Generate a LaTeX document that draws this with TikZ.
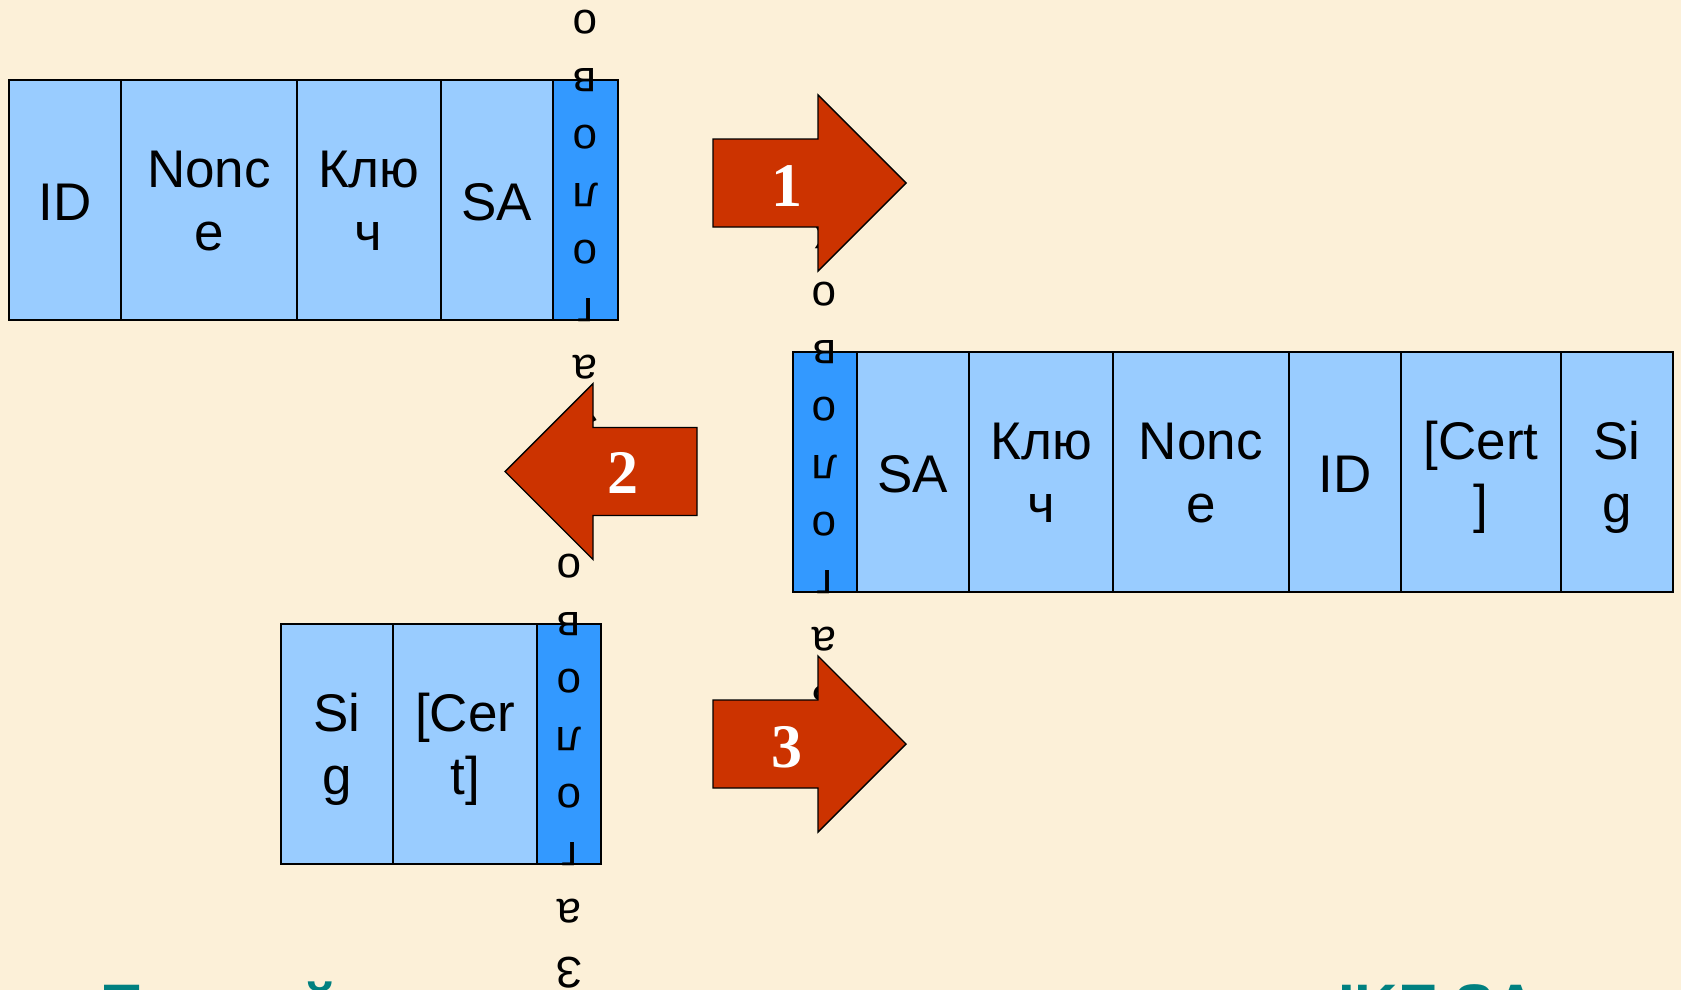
\documentclass[tikz,border=0pt]{standalone}
\usepackage{fontspec}
\setmainfont{Liberation Sans}
\newfontfamily\numfont{Liberation Serif}

\definecolor{bgbeige}{RGB}{252,240,216}
\definecolor{cellblue}{RGB}{153,204,255}
\definecolor{headblue}{RGB}{51,153,255}
\definecolor{arrowred}{RGB}{204,51,0}
\definecolor{titleteal}{RGB}{0,128,128}

% struts with the line box of the cell font
\newcommand\cellstrut{\rule[-0.212em]{0pt}{\dimexpr1.117em+5pt\relax}}
\newcommand\tallstrut{\rule{0pt}{50pt}}

\begin{document}
\begin{tikzpicture}[x=1pt, y=-1pt,
  cell/.style={draw=black, line width=2pt, fill=cellblue, minimum height=240pt,
    inner sep=0pt, outer sep=0pt, align=center, font=\fontsize{53}{63.3}\selectfont,
    execute at begin node=\cellstrut, execute at end node=\cellstrut},
  head/.style={cell, fill=headblue},
  letter/.style={font=\fontsize{44}{52}\selectfont, rotate=180, anchor=base, inner sep=0pt},
  bigarrow/.style={draw=black, line width=1.4pt, fill=arrowred},
  num/.style={font=\numfont\bfseries\fontsize{62}{74}\selectfont, text=white, inner sep=0pt},
  title/.style={font=\bfseries\fontsize{60}{72}\selectfont, text=titleteal, anchor=base west, inner sep=0pt}
]
\fill[bgbeige] (0,0) rectangle (1681,990);
\useasboundingbox (0,0) rectangle (1681,990);

% message 1
\foreach \n/\xa/\xb/\txt in {id/8.6/121/ID, nonce/121/297/{\tallstrut Nonc\\e}, key/297/440.6/{\tallstrut Клю\\ч}, sa/440.6/553/SA} {
  \node[cell, minimum width={\xb pt-\xa pt}] (m1-\n) at ({(\xa+\xb)/2},199.5) {\txt};
}
\node[head, minimum width=64.5pt] (m1-hdr) at (585.25,199.5) {};

% message 2
\node[head, minimum width=63.5pt] (m2-hdr) at (824.75,471.5) {};
\foreach \n/\xa/\xb/\txt in {sa/856.5/969/SA, key/969/1113/{\tallstrut Клю\\ч}, nonce/1113/1288.5/{\tallstrut Nonc\\e}, id/1288.5/1401/ID, cert/1401/1561/{\tallstrut[Cert\\]}, sig/1561/1673/{\tallstrut Si\\g}} {
  \node[cell, minimum width={\xb pt-\xa pt}] (m2-\n) at ({(\xa+\xb)/2},471.5) {\txt};
}

% message 3
\foreach \n/\xa/\xb/\txt in {sig/281/393.4/{\tallstrut Si\\g}, cert/393.4/537/{\tallstrut[Cer\\t]}} {
  \node[cell, minimum width={\xb pt-\xa pt}] (m3-\n) at ({(\xa+\xb)/2},743.5) {\txt};
}
\node[head, minimum width=64pt] (m3-hdr) at (569,743.5) {};

% header text, one letter per line, turned over
\foreach \hx/\hy/\m in {585.25/199.5/1, 824.75/471.5/2, 569/743.5/3} {
  \foreach \ch [count=\j from 0] in {к,о,в,о,л,о,г,а,З} {
    \node[letter] (m\m-l\j) at (\hx,{\hy-16.5+(\j-4)*57.5}) {\ch};
  }
}

% arrows
\draw[bigarrow] (713,139) -- (818,139) -- (818,95) -- (906,183) -- (818,271) -- (818,227) -- (713,227) -- cycle;
\node[num] (n1) at (787,186) {1};
\draw[bigarrow] (697,427.5) -- (593,427.5) -- (593,383.5) -- (505,471.5) -- (593,559.5) -- (593,515.5) -- (697,515.5) -- cycle;
\node[num] (n2) at (622.5,473) {2};
\draw[bigarrow] (713,700) -- (818,700) -- (818,656) -- (906,744) -- (818,832) -- (818,788) -- (713,788) -- cycle;
\node[num] (n3) at (787,747) {3};

% title, cut by the lower edge
\node[title] (ttl-a) at (100,1026) {Первый};
\node[title] (ttl-b) at (1338,1026) {IKE SA};
\end{tikzpicture}
\end{document}
